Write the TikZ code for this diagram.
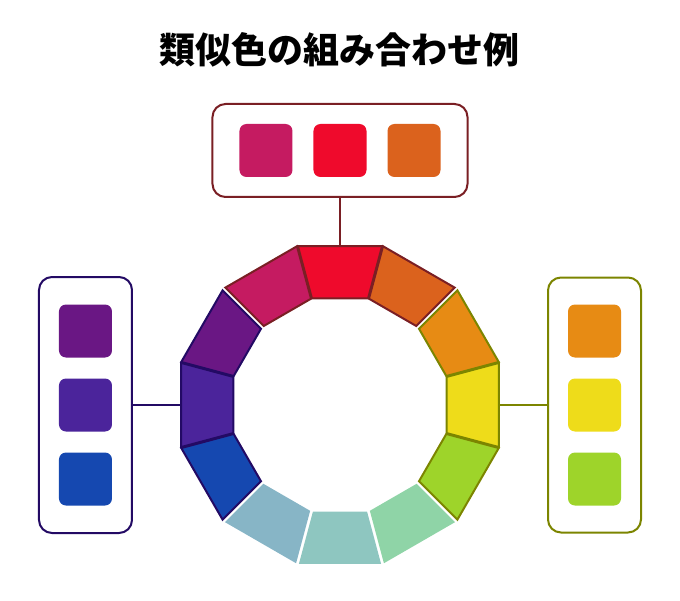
\documentclass[tikz,border=0pt]{standalone}
\usepackage{fontspec}
\newfontfamily\cjk{Noto Sans CJK JP}
\usepackage{xcolor}
\usepackage{tikz}
\usetikzlibrary{positioning,calc}

\definecolor{wMagenta}{HTML}{C51B61}
\definecolor{wRed}{HTML}{EF0A2C}
\definecolor{wDarkOrange}{HTML}{DB621D}
\definecolor{wOrange}{HTML}{E78B14}
\definecolor{wYellow}{HTML}{EEDC1A}
\definecolor{wLime}{HTML}{9ED42A}
\definecolor{wMint}{HTML}{8FD4A7}
\definecolor{wTeal}{HTML}{8EC6C0}
\definecolor{wSky}{HTML}{87B5C6}
\definecolor{wBlue}{HTML}{1548B0}
\definecolor{wViolet}{HTML}{4B249B}
\definecolor{wPurple}{HTML}{6A1784}
\definecolor{topLine}{HTML}{7A1F24}
\definecolor{leftLine}{HTML}{230A64}
\definecolor{rightLine}{HTML}{7C8500}

\def\rimout{164.6}
\def\rimin{110.3}

\begin{document}
\begin{tikzpicture}[x=1pt, y=1pt, node distance=21pt,
    panel/.style={rectangle, rounded corners=13pt, fill=white, line width=2pt},
    swatch/.style={rectangle, rounded corners=7pt, minimum size=53pt, inner sep=0pt, outer sep=0pt},
    segment/.style={line width=2pt}]
    \useasboundingbox (-340,-195) rectangle (340,405);

    \node (title) at (0,355) {\cjk\bfseries\fontsize{36}{40}\selectfont 類似色の組み合わせ例};

    % colour wheel
    \foreach \ang/\fc/\lc/\ga/\gb in {90/wRed/topLine/0.5/0.5, 60/wDarkOrange/topLine/2/0.5,
        120/wMagenta/topLine/0.5/2, 30/wOrange/rightLine/0.5/2, 0/wYellow/rightLine/0.5/0.5,
        -30/wLime/rightLine/2/0.5, -60/wMint/none/1.5/1.5, -90/wTeal/none/1.5/1.5,
        -120/wSky/none/1.5/1.5, -150/wBlue/leftLine/0.5/2, 180/wViolet/leftLine/0.5/0.5,
        150/wPurple/leftLine/2/0.5}
        \filldraw [segment, fill=\fc, draw=\lc]
            ($({\ang-15}:\rimout)!\ga pt!({\ang+15}:\rimout)$) --
            ($({\ang+15}:\rimout)!\gb pt!({\ang-15}:\rimout)$) --
            ($({\ang+15}:\rimin)!\gb pt!({\ang-15}:\rimin)$) --
            ($({\ang-15}:\rimin)!\ga pt!({\ang+15}:\rimin)$) -- cycle;

    \coordinate (rimtop) at (0,159);
    \coordinate (rimleft) at (-159,0);
    \coordinate (rimright) at (159,0);

    % panels
    \node (topbox) [panel, draw=topLine, minimum width=255pt, minimum height=93pt] at (0,254.5) {};
    \node (leftbox) [panel, draw=leftLine, minimum width=93pt, minimum height=256pt] at (-254.5,0) {};
    \node (rightbox) [panel, draw=rightLine, minimum width=93pt, minimum height=255pt] at (254.5,0) {};

    \node (t2) [swatch, fill=wRed] at (topbox.center) {};
    \node (t1) [swatch, fill=wMagenta, left=of t2] {};
    \node (t3) [swatch, fill=wDarkOrange, right=of t2] {};

    \node (l2) [swatch, fill=wViolet] at (leftbox.center) {};
    \node (l1) [swatch, fill=wPurple, above=of l2] {};
    \node (l3) [swatch, fill=wBlue, below=of l2] {};

    \node (r2) [swatch, fill=wYellow] at (rightbox.center) {};
    \node (r1) [swatch, fill=wOrange, above=of r2] {};
    \node (r3) [swatch, fill=wLime, below=of r2] {};

    \draw [line width=2pt, topLine] (topbox.south) -- (rimtop);
    \draw [line width=2pt, leftLine] (leftbox.east) -- (rimleft);
    \draw [line width=2pt, rightLine] (rightbox.west) -- (rimright);
\end{tikzpicture}
\end{document}
